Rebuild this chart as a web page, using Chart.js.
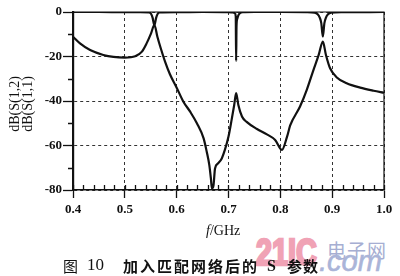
<!DOCTYPE html>
<html>
<head>
<meta charset="utf-8">
<script src="https://cdn.jsdelivr.net/npm/chart.js@4/dist/chart.umd.min.js"></script>
<style>
  html, body { margin: 0; padding: 0; background: #fff; }
  #wrap { position: relative; width: 400px; height: 276px; overflow: hidden; background: #fff; }
  canvas { position: absolute; left: 0; top: 0; z-index: 2; }
  .t { position: absolute; white-space: nowrap; line-height: 1; color: #111; z-index: 3; }
  .wm { position: absolute; white-space: nowrap; line-height: 1; z-index: 1; }
</style>
</head>
<body>
<div id="wrap">
  <div class="wm" style="left:256px;top:232px;font:bold 36px 'Liberation Sans','DejaVu Sans',sans-serif;color:#f0a2b5;-webkit-text-stroke:2.5px #f0a2b5;transform:scaleX(0.8);transform-origin:0 0;">21IC</div>
  <div class="wm" style="left:327px;top:236px;font:19px 'Noto Sans CJK SC',sans-serif;color:#a6aed2;letter-spacing:1px;">电子网</div>
  <div class="wm" style="left:319px;top:245px;font:italic 29px 'Liberation Sans','DejaVu Sans',sans-serif;color:#aab4d8;-webkit-text-stroke:0.6px #aab4d8;">.com</div>
  <canvas id="c" width="400" height="276"></canvas>
  <div class="t" style="left:206px;top:223px;font:14px 'Liberation Serif',serif;"><i>f</i>/GHz</div>
  <div class="t" style="left:63px;top:255px;font:15px 'Noto Sans CJK SC',sans-serif;">图</div>
  <div class="t" style="left:87px;top:255px;font:17px 'Liberation Serif',serif;">10</div>
  <div class="t" style="left:123px;top:255px;font:bold 15px 'Noto Sans CJK SC',sans-serif;letter-spacing:2px;">加入匹配网络后的</div>
  <div class="t" style="left:267px;top:257px;font:bold 16px 'Liberation Serif',serif;">S</div>
  <div class="t" style="left:287px;top:255px;font:bold 15px 'Noto Sans CJK SC',sans-serif;letter-spacing:1px;">参数</div>
</div>
<script>
// ---- data ----
const freqS12 = [0.400,0.4135,0.433,0.4585,0.478,0.500,0.520,0.533,0.542,0.5506,0.557,0.5628,0.5693,0.5776,0.587,0.600,0.613,0.626,0.639,0.652,0.658,0.663,0.666,0.668,0.671,0.674,0.680,0.687,0.693,0.700,0.706,0.711,0.7147,0.719,0.726,0.735,0.755,0.774,0.790,0.803,0.813,0.819,0.838,0.851,0.864,0.874,0.882,0.888,0.896,0.909,0.928,0.954,0.980,1.000];
const dbS12   = [-11.1,-14.1,-17.1,-19.3,-20.2,-20.5,-19.9,-17.8,-14.1,-9.6,-5.8,-11.1,-16.3,-22.3,-28.0,-34.0,-40.3,-44.8,-50.0,-56.8,-62.8,-68.8,-74.7,-79.3,-78.0,-70.3,-68.0,-65.8,-62.0,-56.0,-48.5,-41.8,-36.5,-41.8,-47.0,-49.4,-52.6,-55.0,-57.5,-62.0,-56.0,-51.0,-42.5,-35.0,-26.0,-19.3,-13.3,-19.3,-25.3,-29.4,-32.0,-34.0,-35.4,-36.3];
const freqS11 = [0.400,0.450,0.500,0.530,0.547,0.5505,0.5535,0.557,0.5605,0.5635,0.567,0.600,0.650,0.700,0.708,0.712,0.7140,0.7147,0.7155,0.717,0.719,0.722,0.728,0.750,0.800,0.850,0.866,0.872,0.876,0.879,0.882,0.885,0.888,0.892,0.898,0.920,1.000];
const dbS11   = [0,0,-0.1,-0.1,-0.2,-0.8,-2.5,-6.0,-2.5,-0.8,-0.2,-0.1,0,-0.1,-0.2,-0.4,-2.0,-22.0,-6.0,-3.0,-1.5,-0.5,-0.1,0,0,-0.1,-0.3,-1.0,-2.5,-5.0,-11.0,-5.0,-2.5,-1.0,-0.3,-0.1,0];
const xTicks = [0.4,0.5,0.6,0.7,0.8,0.9,1.0];
const yTicks = [0,-20,-40,-60,-80];
const yTitleLines = ['dB(S(1,2)', 'dB(S(1,1)'];

const toPts = (xs, ys) => xs.map((x, i) => ({x: x, y: ys[i]}));

const framePlugin = {
  id: 'frame',
  afterDraw(chart) {
    const {ctx, chartArea: a, scales: {x, y}} = chart;
    ctx.save();
    ctx.strokeStyle = '#111';
    ctx.lineWidth = 1.2;
    ctx.setLineDash([]);
    ctx.beginPath();
    ctx.moveTo(a.left, a.top); ctx.lineTo(a.right, a.top); ctx.lineTo(a.right, a.bottom);
    ctx.stroke();
    // minor ticks on x axis (inside, upward)
    ctx.lineWidth = 1.3;
    ctx.beginPath();
    for (let k = 0; k <= 30; k++) {
      const px = Math.round(x.getPixelForValue(0.4 + k * 0.02)) + 0.5;
      ctx.moveTo(px, a.bottom); ctx.lineTo(px, a.bottom - 5);
    }
    // minor ticks on y axis (outside, left)
    for (let v = -10; v >= -70; v -= 20) {
      const py = Math.round(y.getPixelForValue(v)) + 0.5;
      ctx.moveTo(a.left, py); ctx.lineTo(a.left - 5, py);
    }
    ctx.stroke();
    // y title (two rotated lines)
    ctx.fillStyle = '#111';
    ctx.font = '14px "Liberation Serif", serif';
    ctx.textAlign = 'center';
    ctx.textBaseline = 'middle';
    ctx.translate(21, (a.top + a.bottom) / 2 + 3);
    ctx.rotate(-Math.PI / 2);
    ctx.fillText(yTitleLines[0], 0, -6);
    ctx.fillText(yTitleLines[1], 0, 7);
    ctx.restore();
  }
};

new Chart(document.getElementById('c'), {
  type: 'line',
  data: {
    datasets: [
      { label: 'S(1,2)', data: toPts(freqS12, dbS12), borderColor: '#111', borderWidth: 2.2, pointRadius: 0, cubicInterpolationMode: 'monotone', fill: false },
      { label: 'S(1,1)', data: toPts(freqS11, dbS11), borderColor: '#111', borderWidth: 2.2, pointRadius: 0, cubicInterpolationMode: 'monotone', fill: false }
    ]
  },
  options: {
    responsive: false,
    animation: false,
    devicePixelRatio: 1,
    layout: { padding: { top: 12, right: 16, left: 0, bottom: 0 } },
    plugins: { legend: { display: false }, tooltip: { enabled: false } },
    scales: {
      x: {
        type: 'linear', min: 0.4, max: 1.0,
        afterFit(s) { s.height = 86; },
        afterBuildTicks(s) { s.ticks = xTicks.map(v => ({value: v})); },
        ticks: { callback: v => Number(v).toFixed(1), color: '#111', padding: 4, maxRotation: 0,
                 font: { family: 'Liberation Serif', size: 13, weight: 'bold' } },
        grid: { color: '#333', lineWidth: 1, tickLength: 8, tickColor: '#111', tickWidth: 1.3 },
        border: { display: true, color: '#111', width: 1.6, dash: [3, 3] }
      },
      y: {
        type: 'linear', min: -80, max: 0,
        afterFit(s) { s.width = 73; },
        afterBuildTicks(s) { s.ticks = yTicks.map(v => ({value: v})); },
        ticks: { color: '#111', padding: 1,
                 font: { family: 'Liberation Serif', size: 13, weight: 'bold' } },
        grid: { color: '#333', lineWidth: 1, tickLength: 10, tickColor: '#111', tickWidth: 1.3 },
        border: { display: true, color: '#111', width: 2.2, dash: [3, 3] }
      }
    }
  },
  plugins: [framePlugin]
});
</script>
</body>
</html>
